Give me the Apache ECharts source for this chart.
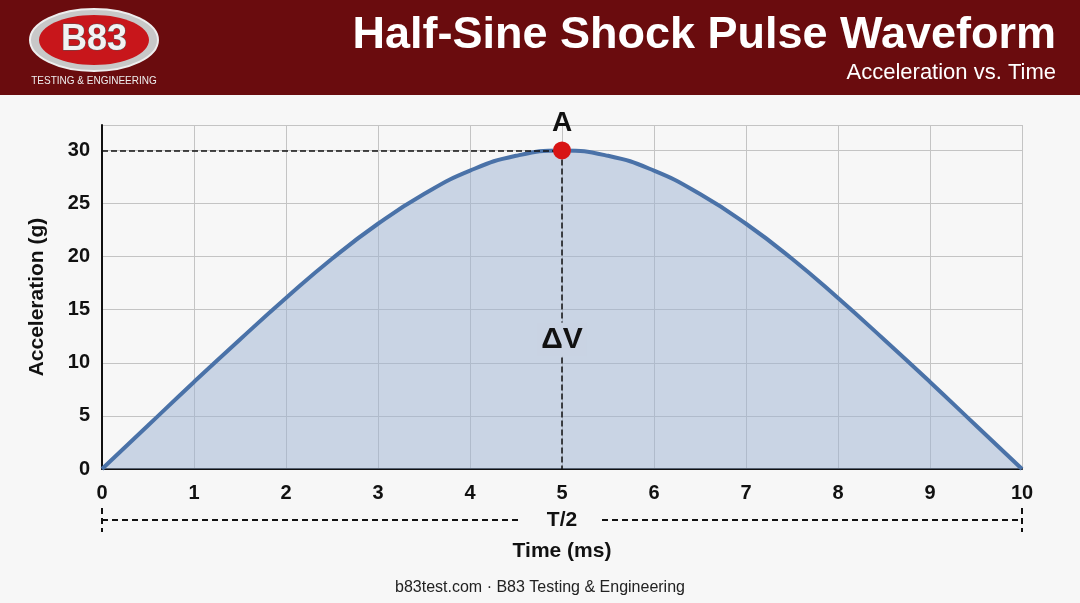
<!DOCTYPE html>
<html><head><meta charset="utf-8">
<script src="https://cdn.jsdelivr.net/npm/echarts@6/dist/echarts.min.js"></script>
<style>html,body{margin:0;padding:0;background:#f7f7f7}#main{width:1080px;height:603px}</style>
</head><body><div id="main"></div>
<script>
// values (ms, g)
var timeMs = [0, 0.5, 1, 1.5, 2, 2.5, 3, 3.5, 4, 4.5, 5, 5.5, 6, 6.5, 7, 7.5, 8, 8.5, 9, 9.5, 10];
var accelG = [0, 4.1, 8.2, 12.2, 16.1, 19.8, 23.1, 25.9, 28.1, 29.5, 30, 29.5, 28.1, 25.9, 23.1, 19.8, 16.1, 12.2, 8.2, 4.1, 0];
var peakT = 5, peakA = 30, pulseEnd = 10;

var myChart = echarts.init(document.getElementById('main'));
var pts = timeMs.map(function (t, i) { return [t, accelG[i]]; });
var F = 'Liberation Sans, Arial, sans-serif';

option = {
    backgroundColor: '#f7f7f7',
    animation: false,
    grid: { left: 102, right: 58, top: 125, bottom: 134 },
    xAxis: {
        type: 'value', min: 0, max: 10, interval: 1,
        name: 'Time (ms)', nameLocation: 'middle', nameGap: 72,
        nameTextStyle: { color: '#111', fontSize: 21, fontWeight: 'bold', fontFamily: F },
        axisLine: { lineStyle: { color: '#111', width: 2 } },
        axisTick: { show: false },
        axisLabel: { color: '#111', fontSize: 20, fontWeight: 'bold', fontFamily: F, margin: 14 },
        splitLine: { lineStyle: { color: '#c4c4c4' } }
    },
    yAxis: {
        type: 'value', min: 0, max: 32.4, interval: 5,
        name: 'Acceleration (g)', nameLocation: 'middle', nameGap: 54,
        nameTextStyle: { color: '#111', fontSize: 21, fontWeight: 'bold', fontFamily: F },
        axisLine: { show: true, lineStyle: { color: '#111', width: 2 } },
        axisTick: { show: false },
        axisLabel: { color: '#111', fontSize: 20, fontWeight: 'bold', fontFamily: F, margin: 12, showMaxLabel: false },
        splitLine: { lineStyle: { color: '#c4c4c4' } }
    },
    series: [{
        type: 'line', data: pts, smooth: true, symbol: 'none',
        lineStyle: { color: '#4a72a8', width: 4 },
        areaStyle: { color: '#9cb1d2', opacity: 0.5 },
        markLine: {
            silent: true, symbol: 'none',
            lineStyle: { color: '#111', type: 'dashed', width: 1.5 },
            label: { show: false },
            data: [
                [{ coord: [0, peakA] }, { coord: [peakT, peakA] }],
                [{ coord: [peakT, peakA] }, { coord: [peakT, 0] }]
            ]
        }
    }, {
        type: 'scatter', data: [[peakT, peakA]], symbolSize: 18, z: 5,
        itemStyle: { color: '#d81414', opacity: 1 },
        label: { show: true, position: 'top', formatter: 'A', distance: 4,
            color: '#111', fontSize: 28, fontWeight: 'bold', fontFamily: F }
    }]
};
myChart.setOption(option);

var p0 = myChart.convertToPixel({ gridIndex: 0 }, [0, 0]);
var p1 = myChart.convertToPixel({ gridIndex: 0 }, [pulseEnd, 0]);
var pm = myChart.convertToPixel({ gridIndex: 0 }, [peakT, 12.2]);
var dy = 520, dash = { stroke: '#111', lineWidth: 2, lineDash: [6, 4] };
myChart.setOption({
    graphic: [
        { type: 'rect', shape: { x: 0, y: 0, width: 1080, height: 95 }, style: { fill: '#6a0c0e' } },
        { type: 'text', right: 24, top: 13, style: { text: 'Half-Sine Shock Pulse Waveform', fill: '#fff', fontSize: 45, fontWeight: 'bold', fontFamily: F } },
        { type: 'text', right: 24, top: 62, style: { text: 'Acceleration vs. Time', fill: '#fff', fontSize: 22, fontFamily: F } },
        { type: 'ellipse', shape: { cx: 94, cy: 40, rx: 64, ry: 31 }, style: { fill: '#c8c8c8', stroke: '#eee', lineWidth: 2 } },
        { type: 'ellipse', shape: { cx: 94, cy: 40, rx: 55, ry: 25 }, style: { fill: '#c8161b' } },
        { type: 'text', x: 94, y: 40, style: { text: 'B83', fill: '#f2f2f2', fontSize: 36, fontWeight: 'bold', fontFamily: F, align: 'center', verticalAlign: 'middle', stroke: '#555', lineWidth: 1 } },
        { type: 'text', x: 94, y: 81, style: { text: 'TESTING & ENGINEERING', fill: '#eee', fontSize: 10, fontFamily: F, align: 'center', verticalAlign: 'middle' } },
        { type: 'text', x: pm[0], y: pm[1], z: 10, style: { text: 'ΔV', fill: '#111', fontSize: 30, fontWeight: 'bold', fontFamily: F, align: 'center', verticalAlign: 'middle', backgroundColor: '#c9d3e3', padding: [2, 4] } },
        { type: 'line', shape: { x1: p0[0], y1: dy, x2: p0[0] + 420, y2: dy }, style: dash },
        { type: 'line', shape: { x1: p1[0] - 420, y1: dy, x2: p1[0], y2: dy }, style: dash },
        { type: 'line', shape: { x1: p0[0], y1: dy - 12, x2: p0[0], y2: dy + 12 }, style: dash },
        { type: 'line', shape: { x1: p1[0], y1: dy - 12, x2: p1[0], y2: dy + 12 }, style: dash },
        { type: 'text', x: (p0[0] + p1[0]) / 2, y: dy, style: { text: 'T/2', fill: '#111', fontSize: 21, fontWeight: 'bold', fontFamily: F, align: 'center', verticalAlign: 'middle' } },
        { type: 'text', x: 540, y: 588, style: { text: 'b83test.com · B83 Testing & Engineering', fill: '#222', fontSize: 16, fontFamily: F, align: 'center', verticalAlign: 'middle' } }
    ]
});
</script></body></html>
